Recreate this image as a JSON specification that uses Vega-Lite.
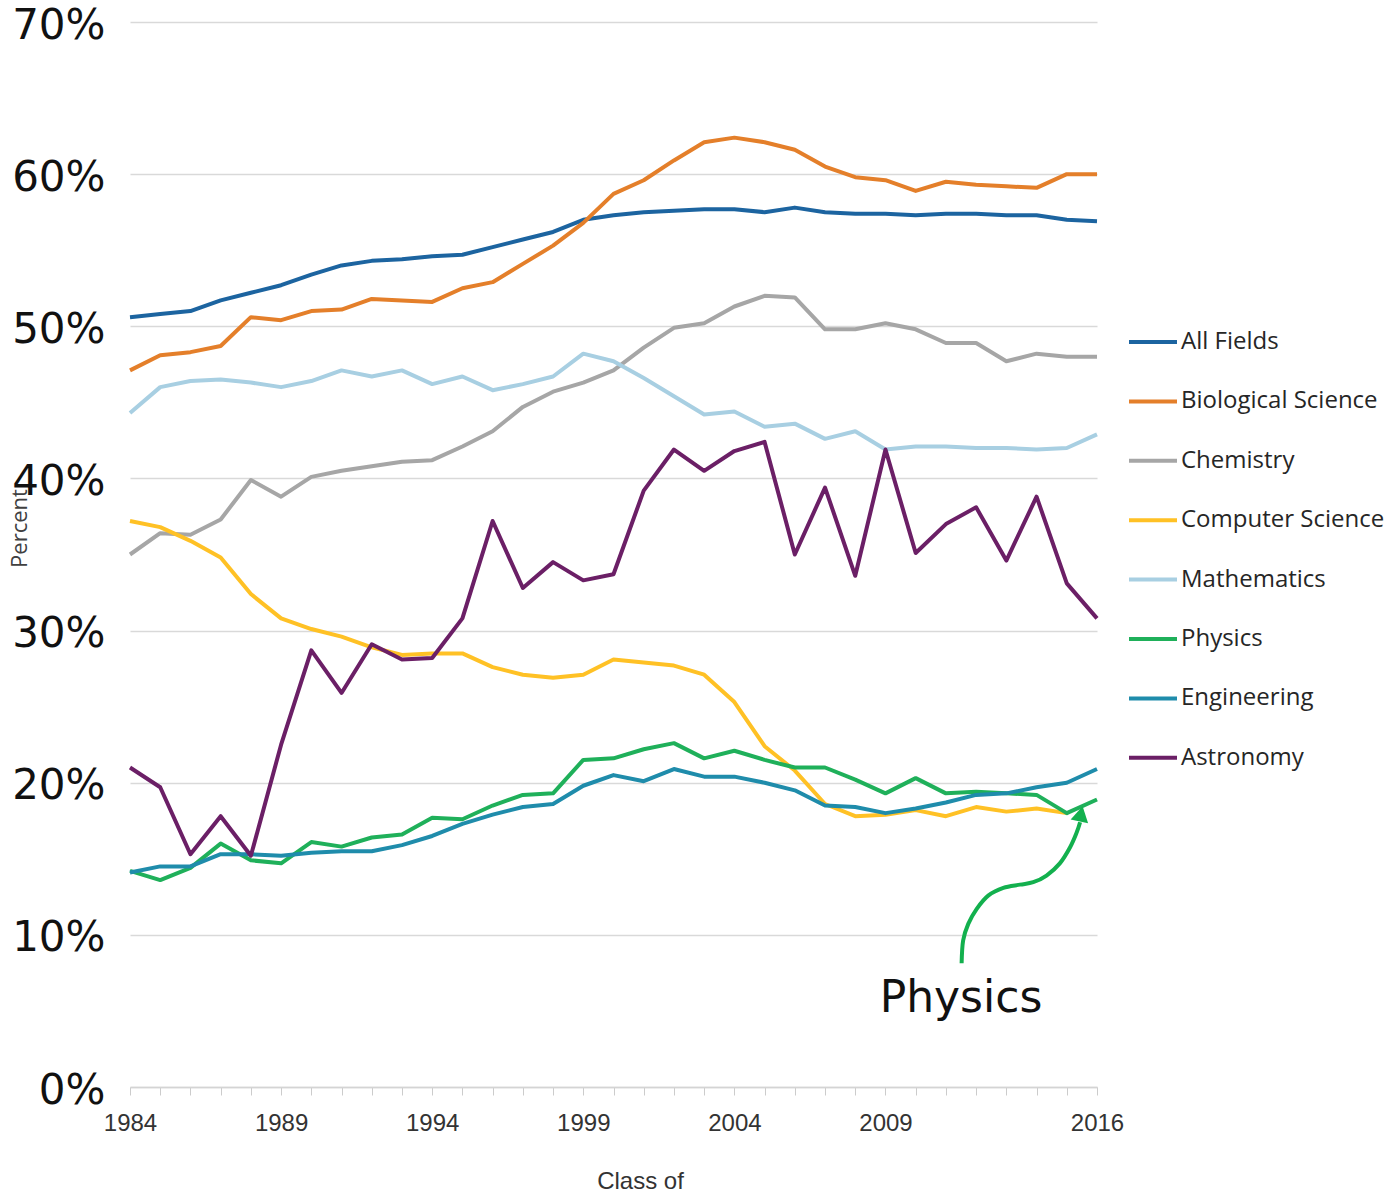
{
  "$schema": "https://vega.github.io/schema/vega-lite/v6.json",
  "width": 967,
  "height": 1065,
  "autosize": {"type": "none"},
  "padding": {"left": 130, "top": 22, "right": 297, "bottom": 106},
  "background": "white",
  "datasets": {
    "main": [
      {"year":1984,"field":"All Fields","pct":50.6},{"year":1985,"field":"All Fields","pct":50.8},{"year":1986,"field":"All Fields","pct":51.0},{"year":1987,"field":"All Fields","pct":51.7},{"year":1988,"field":"All Fields","pct":52.2},{"year":1989,"field":"All Fields","pct":52.7},{"year":1990,"field":"All Fields","pct":53.4},{"year":1991,"field":"All Fields","pct":54.0},{"year":1992,"field":"All Fields","pct":54.3},{"year":1993,"field":"All Fields","pct":54.4},{"year":1994,"field":"All Fields","pct":54.6},{"year":1995,"field":"All Fields","pct":54.7},{"year":1996,"field":"All Fields","pct":55.2},{"year":1997,"field":"All Fields","pct":55.7},{"year":1998,"field":"All Fields","pct":56.2},{"year":1999,"field":"All Fields","pct":57.0},{"year":2000,"field":"All Fields","pct":57.3},{"year":2001,"field":"All Fields","pct":57.5},{"year":2002,"field":"All Fields","pct":57.6},{"year":2003,"field":"All Fields","pct":57.7},{"year":2004,"field":"All Fields","pct":57.7},{"year":2005,"field":"All Fields","pct":57.5},{"year":2006,"field":"All Fields","pct":57.8},{"year":2007,"field":"All Fields","pct":57.5},{"year":2008,"field":"All Fields","pct":57.4},{"year":2009,"field":"All Fields","pct":57.4},{"year":2010,"field":"All Fields","pct":57.3},{"year":2011,"field":"All Fields","pct":57.4},{"year":2012,"field":"All Fields","pct":57.4},{"year":2013,"field":"All Fields","pct":57.3},{"year":2014,"field":"All Fields","pct":57.3},{"year":2015,"field":"All Fields","pct":57.0},{"year":2016,"field":"All Fields","pct":56.9},
      {"year":1984,"field":"Biological Science","pct":47.1},{"year":1985,"field":"Biological Science","pct":48.1},{"year":1986,"field":"Biological Science","pct":48.3},{"year":1987,"field":"Biological Science","pct":48.7},{"year":1988,"field":"Biological Science","pct":50.6},{"year":1989,"field":"Biological Science","pct":50.4},{"year":1990,"field":"Biological Science","pct":51.0},{"year":1991,"field":"Biological Science","pct":51.1},{"year":1992,"field":"Biological Science","pct":51.8},{"year":1993,"field":"Biological Science","pct":51.7},{"year":1994,"field":"Biological Science","pct":51.6},{"year":1995,"field":"Biological Science","pct":52.5},{"year":1996,"field":"Biological Science","pct":52.9},{"year":1997,"field":"Biological Science","pct":54.1},{"year":1998,"field":"Biological Science","pct":55.3},{"year":1999,"field":"Biological Science","pct":56.8},{"year":2000,"field":"Biological Science","pct":58.7},{"year":2001,"field":"Biological Science","pct":59.6},{"year":2002,"field":"Biological Science","pct":60.9},{"year":2003,"field":"Biological Science","pct":62.1},{"year":2004,"field":"Biological Science","pct":62.4},{"year":2005,"field":"Biological Science","pct":62.1},{"year":2006,"field":"Biological Science","pct":61.6},{"year":2007,"field":"Biological Science","pct":60.5},{"year":2008,"field":"Biological Science","pct":59.8},{"year":2009,"field":"Biological Science","pct":59.6},{"year":2010,"field":"Biological Science","pct":58.9},{"year":2011,"field":"Biological Science","pct":59.5},{"year":2012,"field":"Biological Science","pct":59.3},{"year":2013,"field":"Biological Science","pct":59.2},{"year":2014,"field":"Biological Science","pct":59.1},{"year":2015,"field":"Biological Science","pct":60.0},{"year":2016,"field":"Biological Science","pct":60.0},
      {"year":1984,"field":"Chemistry","pct":35.0},{"year":1985,"field":"Chemistry","pct":36.4},{"year":1986,"field":"Chemistry","pct":36.3},{"year":1987,"field":"Chemistry","pct":37.3},{"year":1988,"field":"Chemistry","pct":39.9},{"year":1989,"field":"Chemistry","pct":38.8},{"year":1990,"field":"Chemistry","pct":40.1},{"year":1991,"field":"Chemistry","pct":40.5},{"year":1992,"field":"Chemistry","pct":40.8},{"year":1993,"field":"Chemistry","pct":41.1},{"year":1994,"field":"Chemistry","pct":41.2},{"year":1995,"field":"Chemistry","pct":42.1},{"year":1996,"field":"Chemistry","pct":43.1},{"year":1997,"field":"Chemistry","pct":44.7},{"year":1998,"field":"Chemistry","pct":45.7},{"year":1999,"field":"Chemistry","pct":46.3},{"year":2000,"field":"Chemistry","pct":47.1},{"year":2001,"field":"Chemistry","pct":48.6},{"year":2002,"field":"Chemistry","pct":49.9},{"year":2003,"field":"Chemistry","pct":50.2},{"year":2004,"field":"Chemistry","pct":51.3},{"year":2005,"field":"Chemistry","pct":52.0},{"year":2006,"field":"Chemistry","pct":51.9},{"year":2007,"field":"Chemistry","pct":49.8},{"year":2008,"field":"Chemistry","pct":49.8},{"year":2009,"field":"Chemistry","pct":50.2},{"year":2010,"field":"Chemistry","pct":49.8},{"year":2011,"field":"Chemistry","pct":48.9},{"year":2012,"field":"Chemistry","pct":48.9},{"year":2013,"field":"Chemistry","pct":47.7},{"year":2014,"field":"Chemistry","pct":48.2},{"year":2015,"field":"Chemistry","pct":48.0},{"year":2016,"field":"Chemistry","pct":48.0},
      {"year":1984,"field":"Computer Science","pct":37.2},{"year":1985,"field":"Computer Science","pct":36.8},{"year":1986,"field":"Computer Science","pct":35.9},{"year":1987,"field":"Computer Science","pct":34.8},{"year":1988,"field":"Computer Science","pct":32.4},{"year":1989,"field":"Computer Science","pct":30.8},{"year":1990,"field":"Computer Science","pct":30.1},{"year":1991,"field":"Computer Science","pct":29.6},{"year":1992,"field":"Computer Science","pct":28.9},{"year":1993,"field":"Computer Science","pct":28.4},{"year":1994,"field":"Computer Science","pct":28.5},{"year":1995,"field":"Computer Science","pct":28.5},{"year":1996,"field":"Computer Science","pct":27.6},{"year":1997,"field":"Computer Science","pct":27.1},{"year":1998,"field":"Computer Science","pct":26.9},{"year":1999,"field":"Computer Science","pct":27.1},{"year":2000,"field":"Computer Science","pct":28.1},{"year":2001,"field":"Computer Science","pct":27.9},{"year":2002,"field":"Computer Science","pct":27.7},{"year":2003,"field":"Computer Science","pct":27.1},{"year":2004,"field":"Computer Science","pct":25.3},{"year":2005,"field":"Computer Science","pct":22.4},{"year":2006,"field":"Computer Science","pct":20.8},{"year":2007,"field":"Computer Science","pct":18.6},{"year":2008,"field":"Computer Science","pct":17.8},{"year":2009,"field":"Computer Science","pct":17.9},{"year":2010,"field":"Computer Science","pct":18.2},{"year":2011,"field":"Computer Science","pct":17.8},{"year":2012,"field":"Computer Science","pct":18.4},{"year":2013,"field":"Computer Science","pct":18.1},{"year":2014,"field":"Computer Science","pct":18.3},{"year":2015,"field":"Computer Science","pct":18.0},
      {"year":1984,"field":"Mathematics","pct":44.3},{"year":1985,"field":"Mathematics","pct":46.0},{"year":1986,"field":"Mathematics","pct":46.4},{"year":1987,"field":"Mathematics","pct":46.5},{"year":1988,"field":"Mathematics","pct":46.3},{"year":1989,"field":"Mathematics","pct":46.0},{"year":1990,"field":"Mathematics","pct":46.4},{"year":1991,"field":"Mathematics","pct":47.1},{"year":1992,"field":"Mathematics","pct":46.7},{"year":1993,"field":"Mathematics","pct":47.1},{"year":1994,"field":"Mathematics","pct":46.2},{"year":1995,"field":"Mathematics","pct":46.7},{"year":1996,"field":"Mathematics","pct":45.8},{"year":1997,"field":"Mathematics","pct":46.2},{"year":1998,"field":"Mathematics","pct":46.7},{"year":1999,"field":"Mathematics","pct":48.2},{"year":2000,"field":"Mathematics","pct":47.7},{"year":2001,"field":"Mathematics","pct":46.6},{"year":2002,"field":"Mathematics","pct":45.4},{"year":2003,"field":"Mathematics","pct":44.2},{"year":2004,"field":"Mathematics","pct":44.4},{"year":2005,"field":"Mathematics","pct":43.4},{"year":2006,"field":"Mathematics","pct":43.6},{"year":2007,"field":"Mathematics","pct":42.6},{"year":2008,"field":"Mathematics","pct":43.1},{"year":2009,"field":"Mathematics","pct":41.9},{"year":2010,"field":"Mathematics","pct":42.1},{"year":2011,"field":"Mathematics","pct":42.1},{"year":2012,"field":"Mathematics","pct":42.0},{"year":2013,"field":"Mathematics","pct":42.0},{"year":2014,"field":"Mathematics","pct":41.9},{"year":2015,"field":"Mathematics","pct":42.0},{"year":2016,"field":"Mathematics","pct":42.9},
      {"year":1984,"field":"Physics","pct":14.2},{"year":1985,"field":"Physics","pct":13.6},{"year":1986,"field":"Physics","pct":14.4},{"year":1987,"field":"Physics","pct":16.0},{"year":1988,"field":"Physics","pct":14.9},{"year":1989,"field":"Physics","pct":14.7},{"year":1990,"field":"Physics","pct":16.1},{"year":1991,"field":"Physics","pct":15.8},{"year":1992,"field":"Physics","pct":16.4},{"year":1993,"field":"Physics","pct":16.6},{"year":1994,"field":"Physics","pct":17.7},{"year":1995,"field":"Physics","pct":17.6},{"year":1996,"field":"Physics","pct":18.5},{"year":1997,"field":"Physics","pct":19.2},{"year":1998,"field":"Physics","pct":19.3},{"year":1999,"field":"Physics","pct":21.5},{"year":2000,"field":"Physics","pct":21.6},{"year":2001,"field":"Physics","pct":22.2},{"year":2002,"field":"Physics","pct":22.6},{"year":2003,"field":"Physics","pct":21.6},{"year":2004,"field":"Physics","pct":22.1},{"year":2005,"field":"Physics","pct":21.5},{"year":2006,"field":"Physics","pct":21.0},{"year":2007,"field":"Physics","pct":21.0},{"year":2008,"field":"Physics","pct":20.2},{"year":2009,"field":"Physics","pct":19.3},{"year":2010,"field":"Physics","pct":20.3},{"year":2011,"field":"Physics","pct":19.3},{"year":2012,"field":"Physics","pct":19.4},{"year":2013,"field":"Physics","pct":19.3},{"year":2014,"field":"Physics","pct":19.2},{"year":2015,"field":"Physics","pct":18.0},{"year":2016,"field":"Physics","pct":18.9},
      {"year":1984,"field":"Engineering","pct":14.1},{"year":1985,"field":"Engineering","pct":14.5},{"year":1986,"field":"Engineering","pct":14.5},{"year":1987,"field":"Engineering","pct":15.3},{"year":1988,"field":"Engineering","pct":15.3},{"year":1989,"field":"Engineering","pct":15.2},{"year":1990,"field":"Engineering","pct":15.4},{"year":1991,"field":"Engineering","pct":15.5},{"year":1992,"field":"Engineering","pct":15.5},{"year":1993,"field":"Engineering","pct":15.9},{"year":1994,"field":"Engineering","pct":16.5},{"year":1995,"field":"Engineering","pct":17.3},{"year":1996,"field":"Engineering","pct":17.9},{"year":1997,"field":"Engineering","pct":18.4},{"year":1998,"field":"Engineering","pct":18.6},{"year":1999,"field":"Engineering","pct":19.8},{"year":2000,"field":"Engineering","pct":20.5},{"year":2001,"field":"Engineering","pct":20.1},{"year":2002,"field":"Engineering","pct":20.9},{"year":2003,"field":"Engineering","pct":20.4},{"year":2004,"field":"Engineering","pct":20.4},{"year":2005,"field":"Engineering","pct":20.0},{"year":2006,"field":"Engineering","pct":19.5},{"year":2007,"field":"Engineering","pct":18.5},{"year":2008,"field":"Engineering","pct":18.4},{"year":2009,"field":"Engineering","pct":18.0},{"year":2010,"field":"Engineering","pct":18.3},{"year":2011,"field":"Engineering","pct":18.7},{"year":2012,"field":"Engineering","pct":19.2},{"year":2013,"field":"Engineering","pct":19.3},{"year":2014,"field":"Engineering","pct":19.7},{"year":2015,"field":"Engineering","pct":20.0},{"year":2016,"field":"Engineering","pct":20.9},
      {"year":1984,"field":"Astronomy","pct":21.0},{"year":1985,"field":"Astronomy","pct":19.7},{"year":1986,"field":"Astronomy","pct":15.3},{"year":1987,"field":"Astronomy","pct":17.8},{"year":1988,"field":"Astronomy","pct":15.2},{"year":1989,"field":"Astronomy","pct":22.5},{"year":1990,"field":"Astronomy","pct":28.7},{"year":1991,"field":"Astronomy","pct":25.9},{"year":1992,"field":"Astronomy","pct":29.1},{"year":1993,"field":"Astronomy","pct":28.1},{"year":1994,"field":"Astronomy","pct":28.2},{"year":1995,"field":"Astronomy","pct":30.8},{"year":1996,"field":"Astronomy","pct":37.2},{"year":1997,"field":"Astronomy","pct":32.8},{"year":1998,"field":"Astronomy","pct":34.5},{"year":1999,"field":"Astronomy","pct":33.3},{"year":2000,"field":"Astronomy","pct":33.7},{"year":2001,"field":"Astronomy","pct":39.2},{"year":2002,"field":"Astronomy","pct":41.9},{"year":2003,"field":"Astronomy","pct":40.5},{"year":2004,"field":"Astronomy","pct":41.8},{"year":2005,"field":"Astronomy","pct":42.4},{"year":2006,"field":"Astronomy","pct":35.0},{"year":2007,"field":"Astronomy","pct":39.4},{"year":2008,"field":"Astronomy","pct":33.6},{"year":2009,"field":"Astronomy","pct":41.9},{"year":2010,"field":"Astronomy","pct":35.1},{"year":2011,"field":"Astronomy","pct":37.0},{"year":2012,"field":"Astronomy","pct":38.1},{"year":2013,"field":"Astronomy","pct":34.6},{"year":2014,"field":"Astronomy","pct":38.8},{"year":2015,"field":"Astronomy","pct":33.1},{"year":2016,"field":"Astronomy","pct":30.8}
    ],
    "arrow": [
      {"k":1,"year":2011.52,"pct":8.13},
      {"k":2,"year":2011.57,"pct":9.63},
      {"k":3,"year":2011.74,"pct":10.72},
      {"k":4,"year":2012.02,"pct":11.71},
      {"k":5,"year":2012.40,"pct":12.58},
      {"k":6,"year":2012.90,"pct":13.09},
      {"k":7,"year":2013.45,"pct":13.30},
      {"k":8,"year":2013.89,"pct":13.46},
      {"k":9,"year":2014.33,"pct":13.90},
      {"k":10,"year":2014.77,"pct":14.70},
      {"k":11,"year":2015.11,"pct":15.76},
      {"k":12,"year":2015.33,"pct":16.74},
      {"k":13,"year":2015.44,"pct":17.40}
    ],
    "head": [{"year":2015.47,"pct":17.95}],
    "note": [{"year":2011.5,"pct":4.9,"label":"Physics"}]
  },
  "layer": [
    {
      "data": {"name": "main"},
      "mark": {"type": "line", "strokeWidth": 4, "strokeJoin": "round"},
      "encoding": {
        "x": {
          "field": "year", "type": "quantitative",
          "scale": {"domain": [1984, 2016], "nice": false, "zero": false},
          "axis": {
            "title": "Class of",
            "titleX": 510,
            "values": [1984,1985,1986,1987,1988,1989,1990,1991,1992,1993,1994,1995,1996,1997,1998,1999,2000,2001,2002,2003,2004,2005,2006,2007,2008,2009,2010,2011,2012,2013,2014,2015,2016],
            "tickCount": 50,
            "format": "d",
            "labelExpr": "indexof([1984,1989,1994,1999,2004,2009,2016], datum.value) >= 0 ? datum.label : ''",
            "labelOverlap": false,
            "labelFlush": false,
            "grid": false,
            "domainColor": "#d4d4d4",
            "domainWidth": 1.5,
            "tickColor": "#cccccc",
            "tickSize": 8,
            "tickWidth": 1,
            "labelPadding": 16,
            "labelFont": "Liberation Sans",
            "labelFontSize": 24,
            "labelColor": "#333333",
            "titleFont": "Liberation Sans",
            "titleFontSize": 24,
            "titleFontWeight": "normal",
            "titleColor": "#333333",
            "titlePadding": 34
          }
        },
        "y": {
          "field": "pct", "type": "quantitative",
          "scale": {"domain": [0, 70], "nice": false},
          "axis": {
            "title": "Percent",
            "values": [0,10,20,30,40,50,60,70],
            "labelExpr": "datum.value + '%'",
            "domain": false,
            "ticks": false,
            "grid": true,
            "gridColor": "#d9d9d9",
            "gridWidth": 1.5,
            "labelPadding": 25,
            "labelOffset": 3,
            "labelFont": "DejaVu Sans",
            "labelFontSize": 42,
            "labelColor": "#111111",
            "titleFont": "Open Sans",
            "titleFontSize": 22,
            "titleFontWeight": "normal",
            "titleColor": "#404040",
            "titleX": -99,
            "titleY": 506
          }
        },
        "color": {
          "field": "field", "type": "nominal",
          "scale": {
            "domain": ["All Fields","Biological Science","Chemistry","Computer Science","Mathematics","Physics","Engineering","Astronomy"],
            "range": ["#1c64a0","#e47f2a","#a6a6a6","#ffc125","#a8cfe2","#1fb05a","#1f8cab","#6b1f66"]
          },
          "legend": {
            "title": null,
            "orient": "none",
            "legendX": 997,
            "legendY": 294,
            "padding": 0,
            "symbolType": "stroke",
            "symbolSize": 2304,
            "symbolStrokeWidth": 4,
            "rowPadding": 21.4,
            "labelOffset": 2,
            "labelFont": "Open Sans",
            "labelFontSize": 24,
            "labelColor": "#262626",
            "labelLimit": 400
          }
        }
      }
    },
    {
      "data": {"name": "arrow"},
      "mark": {"type": "line", "interpolate": "cardinal", "color": "#13b04e", "strokeWidth": 4},
      "encoding": {
        "x": {"field": "year", "type": "quantitative"},
        "y": {"field": "pct", "type": "quantitative"},
        "order": {"field": "k"}
      }
    },
    {
      "data": {"name": "head"},
      "mark": {"type": "point", "shape": "triangle-up", "filled": true, "color": "#13b04e", "size": 320, "angle": 12, "opacity": 1},
      "encoding": {
        "x": {"field": "year", "type": "quantitative"},
        "y": {"field": "pct", "type": "quantitative"}
      }
    },
    {
      "data": {"name": "note"},
      "mark": {"type": "text", "font": "DejaVu Sans", "fontSize": 44, "color": "#111111", "align": "center", "baseline": "alphabetic"},
      "encoding": {
        "x": {"field": "year", "type": "quantitative"},
        "y": {"field": "pct", "type": "quantitative"},
        "text": {"field": "label"}
      }
    }
  ],
  "config": {
    "view": {"stroke": null}
  }
}
